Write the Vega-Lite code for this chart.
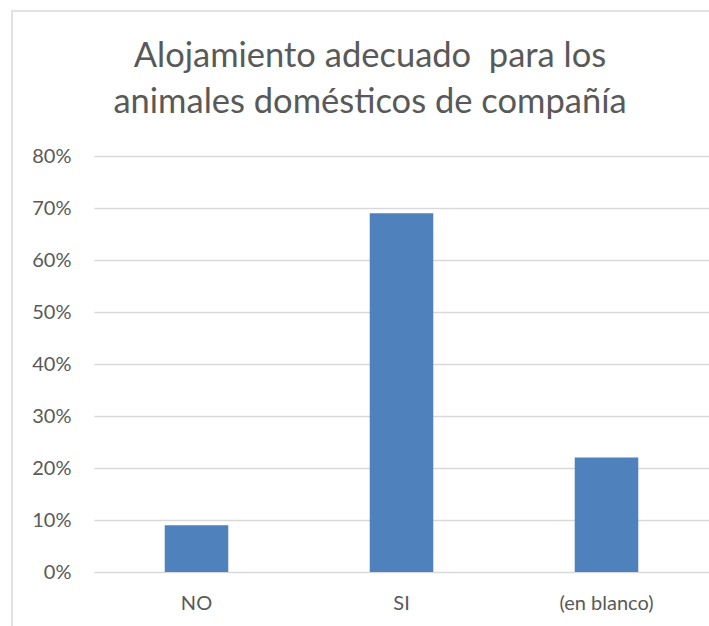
{
  "$schema": "https://vega.github.io/schema/vega-lite/v6.json",
  "autosize": {"type": "none"},
  "width": 700,
  "height": 620,
  "padding": {"left": 12, "top": 11, "right": 0, "bottom": 0},
  "background": "white",
  "config": {
    "font": "Lato",
    "view": {"stroke": "#d9d9d9", "strokeWidth": 1.5}
  },
  "title": {
    "text": ["Alojamiento adecuado \u00a0para los", "animales domésticos de compañía"],
    "font": "Lato",
    "fontSize": 34.5,
    "fontWeight": "normal",
    "color": "#595959",
    "anchor": "middle",
    "frame": "group",
    "dx": 8,
    "lineHeight": 46,
    "baseline": "alphabetic",
    "offset": -136
  },
  "data": {
    "values": [
      {"respuesta": "NO", "porcentaje": 0.09},
      {"respuesta": "SI", "porcentaje": 0.69},
      {"respuesta": "(en blanco)", "porcentaje": 0.22}
    ]
  },
  "mark": {"type": "bar", "color": "#4F81BD"},
  "encoding": {
    "x": {
      "field": "respuesta",
      "type": "nominal",
      "sort": null,
      "scale": {"range": [82, 697], "paddingInner": 0.69, "paddingOuter": 0.345},
      "axis": {
        "title": null,
        "labelAngle": 0,
        "domain": false,
        "ticks": false,
        "grid": false,
        "labelFont": "Lato",
        "labelFontSize": 20,
        "labelColor": "#595959",
        "labelPadding": 21,
        "offset": -59
      }
    },
    "y": {
      "field": "porcentaje",
      "type": "quantitative",
      "scale": {"domain": [0, 0.8], "range": [561, 145], "nice": false},
      "axis": {
        "title": null,
        "format": ".0%",
        "values": [0, 0.1, 0.2, 0.3, 0.4, 0.5, 0.6, 0.7, 0.8],
        "domain": false,
        "ticks": false,
        "labelFont": "Lato",
        "labelFontSize": 20,
        "labelColor": "#595959",
        "labelPadding": 23,
        "offset": -82,
        "gridColor": "#d9d9d9",
        "gridWidth": 1.5
      }
    }
  }
}
